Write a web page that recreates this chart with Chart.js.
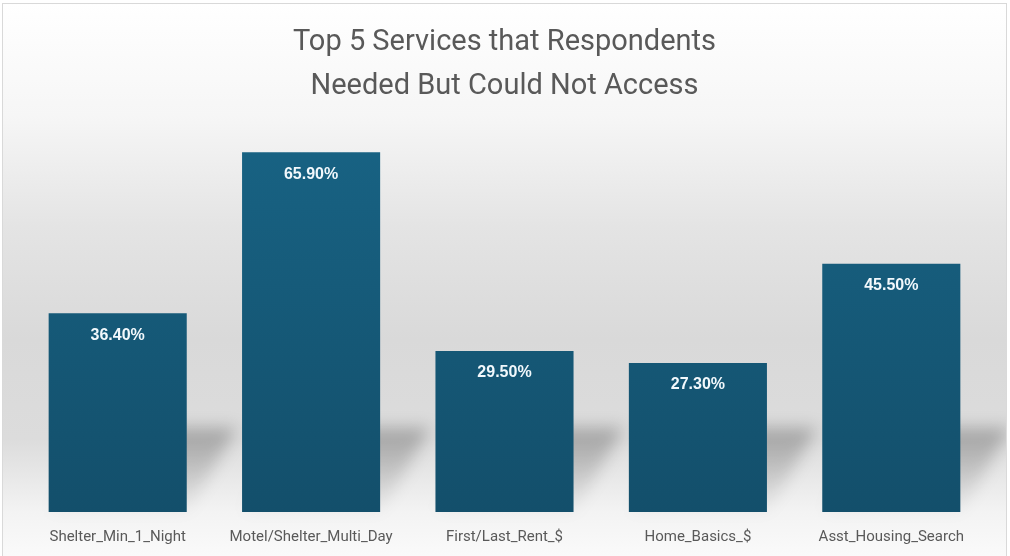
<!DOCTYPE html>
<html>
<head>
<meta charset="utf-8">
<script src="https://cdn.jsdelivr.net/npm/chart.js@4"></script>
<style>
  html, body { margin: 0; padding: 0; background: #fff; }
  #box {
    position: absolute;
    left: 2px; top: 3px;
    width: 1005px; height: 560px;
    border: 1px solid #d9d9d9;
    box-sizing: border-box;
    background: linear-gradient(to bottom,
      #ffffff 0%, #f6f6f6 20%, #e4e4e4 40%, #d9d9d9 60%,
      #dcdcdc 78%, #f3f3f3 91%, #fbfbfb 100%);
  }
  #chart { display: block; }
</style>
</head>
<body>
<div id="box"><canvas id="chart" width="1003" height="558"></canvas></div>
<script>
const categories = [
  "Shelter_Min_1_Night",
  "Motel/Shelter_Multi_Day",
  "First/Last_Rent_$",
  "Home_Basics_$",
  "Asst_Housing_Search",
];
const percentages = [36.4, 65.9, 29.5, 27.3, 45.5];
const titleLines = ["Top 5 Services that Respondents", "Needed But Could Not Access"];

// soft shadow cast behind each bar
const barShadows = {
  id: "barShadows",
  beforeDatasetsDraw(chart) {
    const ctx = chart.ctx;
    const meta = chart.getDatasetMeta(0);
    ctx.save();
    ctx.filter = "blur(8px)";
    meta.data.forEach((bar) => {
      const half = bar.width / 2;
      const left = bar.x - half;
      const right = bar.x + half;
      const base = bar.base;
      const h = Math.min(84, base - bar.y);
      const dx = 50;
      const g = ctx.createLinearGradient(0, base - h, 0, base);
      g.addColorStop(0, "rgba(0,0,0,0.26)");
      g.addColorStop(0.5, "rgba(0,0,0,0.15)");
      g.addColorStop(1, "rgba(0,0,0,0.02)");
      ctx.fillStyle = g;
      ctx.beginPath();
      ctx.moveTo(left, base);
      ctx.lineTo(right, base);
      ctx.lineTo(right + dx, base - h);
      ctx.lineTo(left + dx, base - h);
      ctx.closePath();
      ctx.fill();
    });
    ctx.restore();
  },
};

// value labels inside the top of each bar
const valueLabels = {
  id: "valueLabels",
  afterDatasetsDraw(chart) {
    const ctx = chart.ctx;
    const meta = chart.getDatasetMeta(0);
    ctx.save();
    ctx.fillStyle = "#f2f8fc";
    ctx.font = "bold 16px 'Liberation Sans', Arial, sans-serif";
    ctx.textAlign = "center";
    ctx.textBaseline = "middle";
    meta.data.forEach((bar, i) => {
      ctx.fillText(percentages[i].toFixed(2) + "%", bar.x, bar.y + 22);
    });
    ctx.restore();
  },
};

const ctx = document.getElementById("chart").getContext("2d");
new Chart(ctx, {
  type: "bar",
  data: {
    labels: categories,
    datasets: [
      {
        data: percentages,
        backgroundColor: (c) => {
          const area = c.chart.chartArea;
          if (!area) return "#165a7a";
          const g = c.chart.ctx.createLinearGradient(0, area.top, 0, area.bottom);
          g.addColorStop(0, "#186384");
          g.addColorStop(1, "#134f6b");
          return g;
        },
        borderWidth: 0,
        categoryPercentage: 1,
        barPercentage: 0.714,
      },
    ],
  },
  options: {
    responsive: false,
    animation: false,
    layout: { padding: { left: 18, right: 18, bottom: 0 } },
    plugins: {
      legend: { display: false },
      tooltip: { enabled: false },
      title: {
        display: true,
        text: titleLines,
        color: "#595959",
        font: { family: "Roboto", size: 29, weight: "normal", lineHeight: 1.5 },
        padding: { top: 17, bottom: 22 },
      },
    },
    scales: {
      x: {
        grid: { display: false, drawTicks: false },
        border: { display: false },
        ticks: {
          color: "#595959",
          font: { family: "Roboto", size: 15 },
          padding: 16,
          maxRotation: 0,
        },
      },
      y: {
        display: false,
        min: 0,
        max: 70,
      },
    },
  },
  plugins: [barShadows, valueLabels],
});
</script>
</body>
</html>
